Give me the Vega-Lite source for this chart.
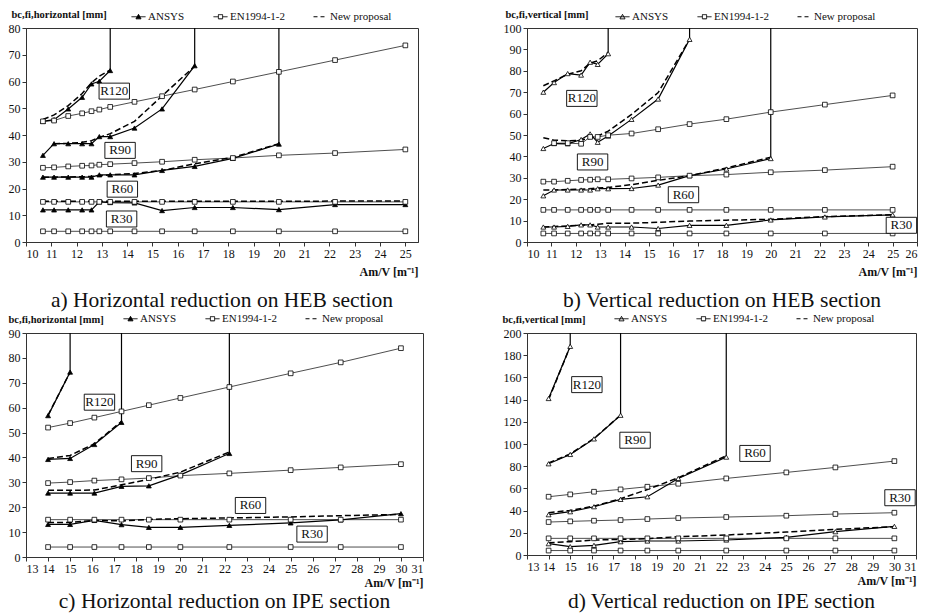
{
  "$schema": "https://vega.github.io/schema/vega-lite/v6.json",
  "background": "white",
  "padding": {"left": 7, "top": 8, "right": 0, "bottom": 0},
  "bounds": "flush",
  "columns": 2,
  "spacing": {"row": 91, "column": 104},
  "resolve": {"scale": {"strokeDash": "independent", "fill": "independent", "shape": "independent"}, "legend": {"strokeDash": "independent", "fill": "independent", "shape": "independent"}},
  "config": {
    "font": "Liberation Serif",
    "view": {"stroke": "#333", "strokeWidth": 1},
    "axis": {"grid": false, "labelOverlap": false, "labelFont": "Liberation Serif", "labelFontSize": 12, "labelColor": "#111", "domainColor": "#333", "tickColor": "#333", "tickSize": 4, "labelPadding": 2, "titleFont": "Liberation Serif", "titleColor": "#111", "titleFontWeight": "bold"},
    "axisX": {"titleAnchor": "end", "titleFontSize": 12},
    "axisY": {"titleAngle": 0, "titleAlign": "left", "titleBaseline": "alphabetic", "titleFontSize": 10.5},
    "title": {"font": "Liberation Serif", "fontSize": 21.5, "fontWeight": "normal", "orient": "bottom", "anchor": "middle", "color": "#111"},
    "legend": {"orient": "none", "direction": "horizontal", "symbolSize": 196, "symbolStrokeWidth": 1, "labelFont": "Liberation Serif", "labelFontSize": 11, "labelColor": "#111", "labelOffset": 2, "columnPadding": 26}
  },
  "datasets": {
    "labels": [
      {"p":"a","t":"R120","x":13.49,"y":56.4},{"p":"a","t":"R90","x":13.72,"y":34.25},{"p":"a","t":"R60","x":13.81,"y":19.75},{"p":"a","t":"R30","x":13.78,"y":8.6},
      {"p":"b","t":"R120","x":12.25,"y":67.1},{"p":"b","t":"R90","x":12.69,"y":37.4},{"p":"b","t":"R60","x":16.42,"y":22.1},{"p":"b","t":"R30","x":25.36,"y":7.8},
      {"p":"c","t":"R120","x":16.33,"y":62.2},{"p":"c","t":"R90","x":18.47,"y":37.5},{"p":"c","t":"R60","x":23.18,"y":20.7},{"p":"c","t":"R30","x":25.97,"y":9.2},
      {"p":"d","t":"R120","x":15.77,"y":153.5},{"p":"d","t":"R90","x":18.0,"y":103.4},{"p":"d","t":"R60","x":23.55,"y":91.5},{"p":"d","t":"R30","x":30.26,"y":51.6}
    ],
    "a": [
      {"m":"EN1994-1-2","r":"R120","x":10.67,"y":45.1},{"m":"EN1994-1-2","r":"R120","x":11.11,"y":45.4},{"m":"EN1994-1-2","r":"R120","x":11.67,"y":47.1},{"m":"EN1994-1-2","r":"R120","x":12.22,"y":48.1},{"m":"EN1994-1-2","r":"R120","x":12.59,"y":48.9},{"m":"EN1994-1-2","r":"R120","x":12.9,"y":49.5},{"m":"EN1994-1-2","r":"R120","x":13.33,"y":50.5},{"m":"EN1994-1-2","r":"R120","x":14.29,"y":52.4},{"m":"EN1994-1-2","r":"R120","x":15.38,"y":54.5},{"m":"EN1994-1-2","r":"R120","x":16.67,"y":57},{"m":"EN1994-1-2","r":"R120","x":18.18,"y":60},{"m":"EN1994-1-2","r":"R120","x":20,"y":63.6},{"m":"EN1994-1-2","r":"R120","x":22.22,"y":68},{"m":"EN1994-1-2","r":"R120","x":25,"y":73.5},
      {"m":"EN1994-1-2","r":"R90","x":10.67,"y":27.75},{"m":"EN1994-1-2","r":"R90","x":11.11,"y":27.9},{"m":"EN1994-1-2","r":"R90","x":11.67,"y":28.25},{"m":"EN1994-1-2","r":"R90","x":12.22,"y":28.5},{"m":"EN1994-1-2","r":"R90","x":12.59,"y":28.6},{"m":"EN1994-1-2","r":"R90","x":12.9,"y":28.9},{"m":"EN1994-1-2","r":"R90","x":13.33,"y":29.1},{"m":"EN1994-1-2","r":"R90","x":14.29,"y":29.5},{"m":"EN1994-1-2","r":"R90","x":15.38,"y":30},{"m":"EN1994-1-2","r":"R90","x":16.67,"y":30.75},{"m":"EN1994-1-2","r":"R90","x":18.18,"y":31.4},{"m":"EN1994-1-2","r":"R90","x":20,"y":32.4},{"m":"EN1994-1-2","r":"R90","x":22.22,"y":33.25},{"m":"EN1994-1-2","r":"R90","x":25,"y":34.6},
      {"m":"EN1994-1-2","r":"R60","x":10.67,"y":15},{"m":"EN1994-1-2","r":"R60","x":11.11,"y":15},{"m":"EN1994-1-2","r":"R60","x":11.67,"y":15},{"m":"EN1994-1-2","r":"R60","x":12.22,"y":15},{"m":"EN1994-1-2","r":"R60","x":12.59,"y":15},{"m":"EN1994-1-2","r":"R60","x":12.9,"y":15},{"m":"EN1994-1-2","r":"R60","x":13.33,"y":15},{"m":"EN1994-1-2","r":"R60","x":14.29,"y":15},{"m":"EN1994-1-2","r":"R60","x":15.38,"y":15},{"m":"EN1994-1-2","r":"R60","x":16.67,"y":15},{"m":"EN1994-1-2","r":"R60","x":18.18,"y":15},{"m":"EN1994-1-2","r":"R60","x":20,"y":15},{"m":"EN1994-1-2","r":"R60","x":22.22,"y":15},{"m":"EN1994-1-2","r":"R60","x":25,"y":15},
      {"m":"EN1994-1-2","r":"R30","x":10.67,"y":4},{"m":"EN1994-1-2","r":"R30","x":11.11,"y":4},{"m":"EN1994-1-2","r":"R30","x":11.67,"y":4},{"m":"EN1994-1-2","r":"R30","x":12.22,"y":4},{"m":"EN1994-1-2","r":"R30","x":12.59,"y":4},{"m":"EN1994-1-2","r":"R30","x":12.9,"y":4},{"m":"EN1994-1-2","r":"R30","x":13.33,"y":4},{"m":"EN1994-1-2","r":"R30","x":14.29,"y":4},{"m":"EN1994-1-2","r":"R30","x":15.38,"y":4},{"m":"EN1994-1-2","r":"R30","x":16.67,"y":4},{"m":"EN1994-1-2","r":"R30","x":18.18,"y":4},{"m":"EN1994-1-2","r":"R30","x":20,"y":4},{"m":"EN1994-1-2","r":"R30","x":22.22,"y":4},{"m":"EN1994-1-2","r":"R30","x":25,"y":4},
      {"m":"ANSYS","r":"R120","x":10.67,"y":45.1},{"m":"ANSYS","r":"R120","x":11.11,"y":45.75},{"m":"ANSYS","r":"R120","x":11.67,"y":49.75},{"m":"ANSYS","r":"R120","x":12.22,"y":54.1},{"m":"ANSYS","r":"R120","x":12.59,"y":59.1},{"m":"ANSYS","r":"R120","x":12.9,"y":60.1},{"m":"ANSYS","r":"R120","x":13.33,"y":64.1},{"m":"ANSYS","r":"R120","x":13.33,"y":80,"cap":true},
      {"m":"ANSYS","r":"R90","x":10.67,"y":32.4},{"m":"ANSYS","r":"R90","x":11.11,"y":36.75},{"m":"ANSYS","r":"R90","x":11.67,"y":36.75},{"m":"ANSYS","r":"R90","x":12.22,"y":36.75},{"m":"ANSYS","r":"R90","x":12.59,"y":36.75},{"m":"ANSYS","r":"R90","x":12.9,"y":39.4},{"m":"ANSYS","r":"R90","x":13.33,"y":39.4},{"m":"ANSYS","r":"R90","x":14.29,"y":42.6},{"m":"ANSYS","r":"R90","x":15.38,"y":49.75},{"m":"ANSYS","r":"R90","x":16.67,"y":65.9},{"m":"ANSYS","r":"R90","x":16.67,"y":80,"cap":true},
      {"m":"ANSYS","r":"R60","x":10.67,"y":24.25},{"m":"ANSYS","r":"R60","x":11.11,"y":24.25},{"m":"ANSYS","r":"R60","x":11.67,"y":24.25},{"m":"ANSYS","r":"R60","x":12.22,"y":24.25},{"m":"ANSYS","r":"R60","x":12.59,"y":24.25},{"m":"ANSYS","r":"R60","x":12.9,"y":25.1},{"m":"ANSYS","r":"R60","x":13.33,"y":25.1},{"m":"ANSYS","r":"R60","x":14.29,"y":25.1},{"m":"ANSYS","r":"R60","x":15.38,"y":26.75},{"m":"ANSYS","r":"R60","x":16.67,"y":28.25},{"m":"ANSYS","r":"R60","x":18.18,"y":31.25},{"m":"ANSYS","r":"R60","x":20,"y":36.6},{"m":"ANSYS","r":"R60","x":20,"y":80,"cap":true},
      {"m":"ANSYS","r":"R30","x":10.67,"y":12},{"m":"ANSYS","r":"R30","x":11.11,"y":12},{"m":"ANSYS","r":"R30","x":11.67,"y":12},{"m":"ANSYS","r":"R30","x":12.22,"y":12},{"m":"ANSYS","r":"R30","x":12.59,"y":12},{"m":"ANSYS","r":"R30","x":12.9,"y":15},{"m":"ANSYS","r":"R30","x":13.33,"y":14.75},{"m":"ANSYS","r":"R30","x":14.29,"y":14.6},{"m":"ANSYS","r":"R30","x":15.38,"y":11.75},{"m":"ANSYS","r":"R30","x":16.67,"y":12.9},{"m":"ANSYS","r":"R30","x":18.18,"y":12.9},{"m":"ANSYS","r":"R30","x":20,"y":12.1},{"m":"ANSYS","r":"R30","x":22.22,"y":14},{"m":"ANSYS","r":"R30","x":25,"y":14},
      {"m":"New proposal","r":"R120","x":10.67,"y":45.8},{"m":"New proposal","r":"R120","x":11.11,"y":47.5},{"m":"New proposal","r":"R120","x":11.67,"y":51},{"m":"New proposal","r":"R120","x":12.22,"y":55.5},{"m":"New proposal","r":"R120","x":12.59,"y":59.5},{"m":"New proposal","r":"R120","x":12.9,"y":62},{"m":"New proposal","r":"R120","x":13.33,"y":64.3},
      {"m":"New proposal","r":"R90","x":11.11,"y":36.75},{"m":"New proposal","r":"R90","x":11.67,"y":36.9},{"m":"New proposal","r":"R90","x":12.22,"y":37.25},{"m":"New proposal","r":"R90","x":12.59,"y":37.9},{"m":"New proposal","r":"R90","x":12.9,"y":39.1},{"m":"New proposal","r":"R90","x":13.33,"y":40.5},{"m":"New proposal","r":"R90","x":14.29,"y":45.1},{"m":"New proposal","r":"R90","x":15.38,"y":54.6},{"m":"New proposal","r":"R90","x":16.67,"y":65.75},
      {"m":"New proposal","r":"R60","x":10.67,"y":24.25},{"m":"New proposal","r":"R60","x":11.11,"y":24.25},{"m":"New proposal","r":"R60","x":11.67,"y":24.3},{"m":"New proposal","r":"R60","x":12.22,"y":24.4},{"m":"New proposal","r":"R60","x":12.59,"y":24.5},{"m":"New proposal","r":"R60","x":12.9,"y":24.8},{"m":"New proposal","r":"R60","x":13.33,"y":25.1},{"m":"New proposal","r":"R60","x":14.29,"y":25.6},{"m":"New proposal","r":"R60","x":15.38,"y":26.75},{"m":"New proposal","r":"R60","x":16.67,"y":29.25},{"m":"New proposal","r":"R60","x":18.18,"y":31.6},{"m":"New proposal","r":"R60","x":20,"y":36.75},
      {"m":"New proposal","r":"R30","x":10.67,"y":15.2},{"m":"New proposal","r":"R30","x":11.11,"y":15.2},{"m":"New proposal","r":"R30","x":11.67,"y":15.2},{"m":"New proposal","r":"R30","x":12.22,"y":15.2},{"m":"New proposal","r":"R30","x":12.59,"y":15.2},{"m":"New proposal","r":"R30","x":12.9,"y":15.2},{"m":"New proposal","r":"R30","x":13.33,"y":15.2},{"m":"New proposal","r":"R30","x":14.29,"y":15.2},{"m":"New proposal","r":"R30","x":15.38,"y":15.2},{"m":"New proposal","r":"R30","x":16.67,"y":15.2},{"m":"New proposal","r":"R30","x":18.18,"y":15.2},{"m":"New proposal","r":"R30","x":20,"y":15.2},{"m":"New proposal","r":"R30","x":22.22,"y":15.3},{"m":"New proposal","r":"R30","x":25,"y":15.3}
    ],
    "b": [
      {"m":"EN1994-1-2","r":"R120","x":11.11,"y":46.2},{"m":"EN1994-1-2","r":"R120","x":11.67,"y":46.2},{"m":"EN1994-1-2","r":"R120","x":12.22,"y":45.9},{"m":"EN1994-1-2","r":"R120","x":12.59,"y":49.1},{"m":"EN1994-1-2","r":"R120","x":12.9,"y":49.1},{"m":"EN1994-1-2","r":"R120","x":13.33,"y":49.9},{"m":"EN1994-1-2","r":"R120","x":14.29,"y":50.7},{"m":"EN1994-1-2","r":"R120","x":15.38,"y":52.7},{"m":"EN1994-1-2","r":"R120","x":16.67,"y":55.1},{"m":"EN1994-1-2","r":"R120","x":18.18,"y":57.4},{"m":"EN1994-1-2","r":"R120","x":20,"y":60.7},{"m":"EN1994-1-2","r":"R120","x":22.22,"y":64.2},{"m":"EN1994-1-2","r":"R120","x":25,"y":68.5},
      {"m":"EN1994-1-2","r":"R90","x":10.67,"y":28.2},{"m":"EN1994-1-2","r":"R90","x":11.11,"y":28.2},{"m":"EN1994-1-2","r":"R90","x":11.67,"y":28.6},{"m":"EN1994-1-2","r":"R90","x":12.22,"y":29},{"m":"EN1994-1-2","r":"R90","x":12.59,"y":29.1},{"m":"EN1994-1-2","r":"R90","x":12.9,"y":29.3},{"m":"EN1994-1-2","r":"R90","x":13.33,"y":29.3},{"m":"EN1994-1-2","r":"R90","x":14.29,"y":29.7},{"m":"EN1994-1-2","r":"R90","x":15.38,"y":30.2},{"m":"EN1994-1-2","r":"R90","x":16.67,"y":31},{"m":"EN1994-1-2","r":"R90","x":18.18,"y":31.5},{"m":"EN1994-1-2","r":"R90","x":20,"y":32.6},{"m":"EN1994-1-2","r":"R90","x":22.22,"y":33.6},{"m":"EN1994-1-2","r":"R90","x":25,"y":35.2},
      {"m":"EN1994-1-2","r":"R60","x":10.67,"y":15},{"m":"EN1994-1-2","r":"R60","x":11.11,"y":15},{"m":"EN1994-1-2","r":"R60","x":11.67,"y":15},{"m":"EN1994-1-2","r":"R60","x":12.22,"y":15},{"m":"EN1994-1-2","r":"R60","x":12.59,"y":15},{"m":"EN1994-1-2","r":"R60","x":12.9,"y":15},{"m":"EN1994-1-2","r":"R60","x":13.33,"y":15},{"m":"EN1994-1-2","r":"R60","x":14.29,"y":15},{"m":"EN1994-1-2","r":"R60","x":15.38,"y":15},{"m":"EN1994-1-2","r":"R60","x":16.67,"y":15},{"m":"EN1994-1-2","r":"R60","x":18.18,"y":15},{"m":"EN1994-1-2","r":"R60","x":20,"y":15},{"m":"EN1994-1-2","r":"R60","x":22.22,"y":15},{"m":"EN1994-1-2","r":"R60","x":25,"y":15},
      {"m":"EN1994-1-2","r":"R30","x":10.67,"y":4},{"m":"EN1994-1-2","r":"R30","x":11.11,"y":4},{"m":"EN1994-1-2","r":"R30","x":11.67,"y":4},{"m":"EN1994-1-2","r":"R30","x":12.22,"y":4},{"m":"EN1994-1-2","r":"R30","x":12.59,"y":4},{"m":"EN1994-1-2","r":"R30","x":12.9,"y":4},{"m":"EN1994-1-2","r":"R30","x":13.33,"y":4},{"m":"EN1994-1-2","r":"R30","x":14.29,"y":4},{"m":"EN1994-1-2","r":"R30","x":15.38,"y":4},{"m":"EN1994-1-2","r":"R30","x":16.67,"y":4},{"m":"EN1994-1-2","r":"R30","x":18.18,"y":4},{"m":"EN1994-1-2","r":"R30","x":20,"y":4},{"m":"EN1994-1-2","r":"R30","x":22.22,"y":4},{"m":"EN1994-1-2","r":"R30","x":25,"y":4},
      {"m":"ANSYS","r":"R120","x":10.67,"y":70},{"m":"ANSYS","r":"R120","x":11.11,"y":74.5},{"m":"ANSYS","r":"R120","x":11.67,"y":78.7},{"m":"ANSYS","r":"R120","x":12.22,"y":78},{"m":"ANSYS","r":"R120","x":12.59,"y":84},{"m":"ANSYS","r":"R120","x":12.9,"y":83},{"m":"ANSYS","r":"R120","x":13.33,"y":88},{"m":"ANSYS","r":"R120","x":13.33,"y":100,"cap":true},
      {"m":"ANSYS","r":"R90","x":10.67,"y":43.7},{"m":"ANSYS","r":"R90","x":11.11,"y":46},{"m":"ANSYS","r":"R90","x":11.67,"y":45.9},{"m":"ANSYS","r":"R90","x":12.22,"y":47.9},{"m":"ANSYS","r":"R90","x":12.59,"y":50.5},{"m":"ANSYS","r":"R90","x":12.9,"y":46.6},{"m":"ANSYS","r":"R90","x":13.33,"y":49.5},{"m":"ANSYS","r":"R90","x":14.29,"y":57.3},{"m":"ANSYS","r":"R90","x":15.38,"y":66.8},{"m":"ANSYS","r":"R90","x":16.67,"y":94.7},{"m":"ANSYS","r":"R90","x":16.67,"y":100,"cap":true},
      {"m":"ANSYS","r":"R60","x":10.67,"y":21.6},{"m":"ANSYS","r":"R60","x":11.11,"y":24.3},{"m":"ANSYS","r":"R60","x":11.67,"y":24.3},{"m":"ANSYS","r":"R60","x":12.22,"y":24.3},{"m":"ANSYS","r":"R60","x":12.59,"y":24.3},{"m":"ANSYS","r":"R60","x":12.9,"y":24.9},{"m":"ANSYS","r":"R60","x":13.33,"y":24.9},{"m":"ANSYS","r":"R60","x":14.29,"y":25},{"m":"ANSYS","r":"R60","x":15.38,"y":26.6},{"m":"ANSYS","r":"R60","x":16.67,"y":31},{"m":"ANSYS","r":"R60","x":18.18,"y":34.1},{"m":"ANSYS","r":"R60","x":20,"y":39},{"m":"ANSYS","r":"R60","x":20,"y":100,"cap":true},
      {"m":"ANSYS","r":"R30","x":10.67,"y":7},{"m":"ANSYS","r":"R30","x":11.11,"y":7},{"m":"ANSYS","r":"R30","x":11.67,"y":7.3},{"m":"ANSYS","r":"R30","x":12.22,"y":8},{"m":"ANSYS","r":"R30","x":12.59,"y":8},{"m":"ANSYS","r":"R30","x":12.9,"y":7},{"m":"ANSYS","r":"R30","x":13.33,"y":7},{"m":"ANSYS","r":"R30","x":14.29,"y":7},{"m":"ANSYS","r":"R30","x":15.38,"y":6.3},{"m":"ANSYS","r":"R30","x":16.67,"y":7.8},{"m":"ANSYS","r":"R30","x":18.18,"y":7.8},{"m":"ANSYS","r":"R30","x":20,"y":10.3},{"m":"ANSYS","r":"R30","x":22.22,"y":11.7},{"m":"ANSYS","r":"R30","x":25,"y":12.7},
      {"m":"New proposal","r":"R120","x":10.67,"y":73},{"m":"New proposal","r":"R120","x":11.11,"y":75.3},{"m":"New proposal","r":"R120","x":11.67,"y":78.4},{"m":"New proposal","r":"R120","x":12.22,"y":80},{"m":"New proposal","r":"R120","x":12.59,"y":83.6},{"m":"New proposal","r":"R120","x":12.9,"y":84.7},{"m":"New proposal","r":"R120","x":13.33,"y":88.6},
      {"m":"New proposal","r":"R90","x":10.67,"y":48.7},{"m":"New proposal","r":"R90","x":11.11,"y":47.6},{"m":"New proposal","r":"R90","x":11.67,"y":47.3},{"m":"New proposal","r":"R90","x":12.22,"y":47.6},{"m":"New proposal","r":"R90","x":12.59,"y":48.5},{"m":"New proposal","r":"R90","x":12.9,"y":49.5},{"m":"New proposal","r":"R90","x":13.33,"y":51.8},{"m":"New proposal","r":"R90","x":14.29,"y":59.6},{"m":"New proposal","r":"R90","x":15.38,"y":69.8},{"m":"New proposal","r":"R90","x":16.67,"y":94.7},
      {"m":"New proposal","r":"R60","x":10.67,"y":24.3},{"m":"New proposal","r":"R60","x":11.11,"y":24.3},{"m":"New proposal","r":"R60","x":11.67,"y":24.5},{"m":"New proposal","r":"R60","x":12.22,"y":24.7},{"m":"New proposal","r":"R60","x":12.59,"y":24.9},{"m":"New proposal","r":"R60","x":12.9,"y":25.2},{"m":"New proposal","r":"R60","x":13.33,"y":25.5},{"m":"New proposal","r":"R60","x":14.29,"y":26.8},{"m":"New proposal","r":"R60","x":15.38,"y":28.8},{"m":"New proposal","r":"R60","x":16.67,"y":31},{"m":"New proposal","r":"R60","x":18.18,"y":34.6},{"m":"New proposal","r":"R60","x":20,"y":39.6},
      {"m":"New proposal","r":"R30","x":10.67,"y":7},{"m":"New proposal","r":"R30","x":11.11,"y":7.3},{"m":"New proposal","r":"R30","x":11.67,"y":7.5},{"m":"New proposal","r":"R30","x":12.22,"y":7.8},{"m":"New proposal","r":"R30","x":12.59,"y":8},{"m":"New proposal","r":"R30","x":12.9,"y":8.3},{"m":"New proposal","r":"R30","x":13.33,"y":8.8},{"m":"New proposal","r":"R30","x":14.29,"y":8.8},{"m":"New proposal","r":"R30","x":15.38,"y":9.2},{"m":"New proposal","r":"R30","x":16.67,"y":9.8},{"m":"New proposal","r":"R30","x":18.18,"y":10.2},{"m":"New proposal","r":"R30","x":20,"y":10.6},{"m":"New proposal","r":"R30","x":22.22,"y":11.9},{"m":"New proposal","r":"R30","x":25,"y":12.7}
    ],
    "c": [
      {"m":"EN1994-1-2","r":"R120","x":14,"y":52},{"m":"EN1994-1-2","r":"R120","x":15,"y":53.8},{"m":"EN1994-1-2","r":"R120","x":16.1,"y":56},{"m":"EN1994-1-2","r":"R120","x":17.33,"y":58.5},{"m":"EN1994-1-2","r":"R120","x":18.57,"y":61},{"m":"EN1994-1-2","r":"R120","x":20,"y":63.9},{"m":"EN1994-1-2","r":"R120","x":22.22,"y":68.3},{"m":"EN1994-1-2","r":"R120","x":25,"y":73.8},{"m":"EN1994-1-2","r":"R120","x":27.27,"y":78.2},{"m":"EN1994-1-2","r":"R120","x":30,"y":83.9},
      {"m":"EN1994-1-2","r":"R90","x":14,"y":29.7},{"m":"EN1994-1-2","r":"R90","x":15,"y":30.1},{"m":"EN1994-1-2","r":"R90","x":16.1,"y":30.7},{"m":"EN1994-1-2","r":"R90","x":17.33,"y":31.2},{"m":"EN1994-1-2","r":"R90","x":18.57,"y":31.7},{"m":"EN1994-1-2","r":"R90","x":20,"y":32.7},{"m":"EN1994-1-2","r":"R90","x":22.22,"y":33.6},{"m":"EN1994-1-2","r":"R90","x":25,"y":34.9},{"m":"EN1994-1-2","r":"R90","x":27.27,"y":36},{"m":"EN1994-1-2","r":"R90","x":30,"y":37.3},
      {"m":"EN1994-1-2","r":"R60","x":14,"y":15},{"m":"EN1994-1-2","r":"R60","x":15,"y":15},{"m":"EN1994-1-2","r":"R60","x":16.1,"y":15},{"m":"EN1994-1-2","r":"R60","x":17.33,"y":15},{"m":"EN1994-1-2","r":"R60","x":18.57,"y":15},{"m":"EN1994-1-2","r":"R60","x":20,"y":15},{"m":"EN1994-1-2","r":"R60","x":22.22,"y":15},{"m":"EN1994-1-2","r":"R60","x":25,"y":15},{"m":"EN1994-1-2","r":"R60","x":27.27,"y":15},{"m":"EN1994-1-2","r":"R60","x":30,"y":15},
      {"m":"EN1994-1-2","r":"R30","x":14,"y":4},{"m":"EN1994-1-2","r":"R30","x":15,"y":4},{"m":"EN1994-1-2","r":"R30","x":16.1,"y":4},{"m":"EN1994-1-2","r":"R30","x":17.33,"y":4},{"m":"EN1994-1-2","r":"R30","x":18.57,"y":4},{"m":"EN1994-1-2","r":"R30","x":20,"y":4},{"m":"EN1994-1-2","r":"R30","x":22.22,"y":4},{"m":"EN1994-1-2","r":"R30","x":25,"y":4},{"m":"EN1994-1-2","r":"R30","x":27.27,"y":4},{"m":"EN1994-1-2","r":"R30","x":30,"y":4},
      {"m":"ANSYS","r":"R120","x":14,"y":56.8},{"m":"ANSYS","r":"R120","x":15,"y":74.3},{"m":"ANSYS","r":"R120","x":15,"y":90,"cap":true},
      {"m":"ANSYS","r":"R90","x":14,"y":39.2},{"m":"ANSYS","r":"R90","x":15,"y":39.6},{"m":"ANSYS","r":"R90","x":16.1,"y":45.2},{"m":"ANSYS","r":"R90","x":17.33,"y":54.1},{"m":"ANSYS","r":"R90","x":17.33,"y":90,"cap":true},
      {"m":"ANSYS","r":"R60","x":14,"y":25.7},{"m":"ANSYS","r":"R60","x":15,"y":25.7},{"m":"ANSYS","r":"R60","x":16.1,"y":25.7},{"m":"ANSYS","r":"R60","x":17.33,"y":28.4},{"m":"ANSYS","r":"R60","x":18.57,"y":28.6},{"m":"ANSYS","r":"R60","x":20,"y":33},{"m":"ANSYS","r":"R60","x":22.22,"y":41.6},{"m":"ANSYS","r":"R60","x":22.22,"y":90,"cap":true},
      {"m":"ANSYS","r":"R30","x":14,"y":13.1},{"m":"ANSYS","r":"R30","x":15,"y":13.1},{"m":"ANSYS","r":"R30","x":16.1,"y":14.7},{"m":"ANSYS","r":"R30","x":17.33,"y":13},{"m":"ANSYS","r":"R30","x":18.57,"y":11.9},{"m":"ANSYS","r":"R30","x":20,"y":11.9},{"m":"ANSYS","r":"R30","x":22.22,"y":12.7},{"m":"ANSYS","r":"R30","x":25,"y":13.7},{"m":"ANSYS","r":"R30","x":27.27,"y":14.9},{"m":"ANSYS","r":"R30","x":30,"y":17.4},
      {"m":"New proposal","r":"R120","x":14,"y":57},{"m":"New proposal","r":"R120","x":15,"y":74.3},
      {"m":"New proposal","r":"R90","x":14,"y":39.6},{"m":"New proposal","r":"R90","x":15,"y":40.8},{"m":"New proposal","r":"R90","x":16.1,"y":45.5},{"m":"New proposal","r":"R90","x":17.33,"y":54.5},
      {"m":"New proposal","r":"R60","x":14,"y":26.8},{"m":"New proposal","r":"R60","x":15,"y":26.8},{"m":"New proposal","r":"R60","x":16.1,"y":26.9},{"m":"New proposal","r":"R60","x":17.33,"y":29},{"m":"New proposal","r":"R60","x":18.57,"y":31.2},{"m":"New proposal","r":"R60","x":20,"y":34.1},{"m":"New proposal","r":"R60","x":22.22,"y":42.2},
      {"m":"New proposal","r":"R30","x":14,"y":13.9},{"m":"New proposal","r":"R30","x":15,"y":13.9},{"m":"New proposal","r":"R30","x":16.1,"y":14.7},{"m":"New proposal","r":"R30","x":17.33,"y":14.5},{"m":"New proposal","r":"R30","x":18.57,"y":15.1},{"m":"New proposal","r":"R30","x":20,"y":15.4},{"m":"New proposal","r":"R30","x":22.22,"y":15.7},{"m":"New proposal","r":"R30","x":25,"y":16.1},{"m":"New proposal","r":"R30","x":27.27,"y":16.6},{"m":"New proposal","r":"R30","x":30,"y":17.1}
    ],
    "d": [
      {"m":"EN1994-1-2","r":"R120","x":14,"y":52.5},{"m":"EN1994-1-2","r":"R120","x":15,"y":54.6},{"m":"EN1994-1-2","r":"R120","x":16.1,"y":57},{"m":"EN1994-1-2","r":"R120","x":17.33,"y":59.1},{"m":"EN1994-1-2","r":"R120","x":18.57,"y":61.5},{"m":"EN1994-1-2","r":"R120","x":20,"y":64.2},{"m":"EN1994-1-2","r":"R120","x":22.22,"y":69},{"m":"EN1994-1-2","r":"R120","x":25,"y":74.4},{"m":"EN1994-1-2","r":"R120","x":27.27,"y":78.9},{"m":"EN1994-1-2","r":"R120","x":30,"y":84.6},
      {"m":"EN1994-1-2","r":"R90","x":14,"y":29.7},{"m":"EN1994-1-2","r":"R90","x":15,"y":30.3},{"m":"EN1994-1-2","r":"R90","x":16.1,"y":30.9},{"m":"EN1994-1-2","r":"R90","x":17.33,"y":31.5},{"m":"EN1994-1-2","r":"R90","x":18.57,"y":32.4},{"m":"EN1994-1-2","r":"R90","x":20,"y":33.3},{"m":"EN1994-1-2","r":"R90","x":22.22,"y":34.2},{"m":"EN1994-1-2","r":"R90","x":25,"y":35.4},{"m":"EN1994-1-2","r":"R90","x":27.27,"y":36.9},{"m":"EN1994-1-2","r":"R90","x":30,"y":38.1},
      {"m":"EN1994-1-2","r":"R60","x":14,"y":15},{"m":"EN1994-1-2","r":"R60","x":15,"y":15},{"m":"EN1994-1-2","r":"R60","x":16.1,"y":15},{"m":"EN1994-1-2","r":"R60","x":17.33,"y":15},{"m":"EN1994-1-2","r":"R60","x":18.57,"y":15},{"m":"EN1994-1-2","r":"R60","x":20,"y":15},{"m":"EN1994-1-2","r":"R60","x":22.22,"y":15},{"m":"EN1994-1-2","r":"R60","x":25,"y":15},{"m":"EN1994-1-2","r":"R60","x":27.27,"y":15},{"m":"EN1994-1-2","r":"R60","x":30,"y":15},
      {"m":"EN1994-1-2","r":"R30","x":14,"y":4},{"m":"EN1994-1-2","r":"R30","x":15,"y":4},{"m":"EN1994-1-2","r":"R30","x":16.1,"y":4},{"m":"EN1994-1-2","r":"R30","x":17.33,"y":4},{"m":"EN1994-1-2","r":"R30","x":18.57,"y":4},{"m":"EN1994-1-2","r":"R30","x":20,"y":4},{"m":"EN1994-1-2","r":"R30","x":22.22,"y":4},{"m":"EN1994-1-2","r":"R30","x":25,"y":4},{"m":"EN1994-1-2","r":"R30","x":27.27,"y":4},{"m":"EN1994-1-2","r":"R30","x":30,"y":4},
      {"m":"ANSYS","r":"R120","x":14,"y":141},{"m":"ANSYS","r":"R120","x":15,"y":188},{"m":"ANSYS","r":"R120","x":15,"y":200,"cap":true},
      {"m":"ANSYS","r":"R90","x":14,"y":82.2},{"m":"ANSYS","r":"R90","x":15,"y":90.6},{"m":"ANSYS","r":"R90","x":16.1,"y":104.6},{"m":"ANSYS","r":"R90","x":17.33,"y":125.9},{"m":"ANSYS","r":"R90","x":17.33,"y":200,"cap":true},
      {"m":"ANSYS","r":"R60","x":14,"y":36.3},{"m":"ANSYS","r":"R60","x":15,"y":39},{"m":"ANSYS","r":"R60","x":16.1,"y":43.5},{"m":"ANSYS","r":"R60","x":17.33,"y":50.1},{"m":"ANSYS","r":"R60","x":18.57,"y":52.5},{"m":"ANSYS","r":"R60","x":20,"y":69},{"m":"ANSYS","r":"R60","x":22.22,"y":88.2},{"m":"ANSYS","r":"R60","x":22.22,"y":200,"cap":true},
      {"m":"ANSYS","r":"R30","x":14,"y":10.2},{"m":"ANSYS","r":"R30","x":15,"y":7.5},{"m":"ANSYS","r":"R30","x":16.1,"y":8.7},{"m":"ANSYS","r":"R30","x":17.33,"y":12},{"m":"ANSYS","r":"R30","x":18.57,"y":12.6},{"m":"ANSYS","r":"R30","x":20,"y":12.6},{"m":"ANSYS","r":"R30","x":22.22,"y":13.5},{"m":"ANSYS","r":"R30","x":25,"y":15.9},{"m":"ANSYS","r":"R30","x":27.27,"y":21},{"m":"ANSYS","r":"R30","x":30,"y":25.8},
      {"m":"New proposal","r":"R120","x":14,"y":140},{"m":"New proposal","r":"R120","x":15,"y":188},
      {"m":"New proposal","r":"R90","x":14,"y":83},{"m":"New proposal","r":"R90","x":15,"y":91},{"m":"New proposal","r":"R90","x":16.1,"y":105},{"m":"New proposal","r":"R90","x":17.33,"y":126},
      {"m":"New proposal","r":"R60","x":14,"y":38.1},{"m":"New proposal","r":"R60","x":15,"y":40.2},{"m":"New proposal","r":"R60","x":16.1,"y":44},{"m":"New proposal","r":"R60","x":17.33,"y":50.7},{"m":"New proposal","r":"R60","x":18.57,"y":59},{"m":"New proposal","r":"R60","x":20,"y":69.6},{"m":"New proposal","r":"R60","x":22.22,"y":89.4},
      {"m":"New proposal","r":"R30","x":14,"y":11.1},{"m":"New proposal","r":"R30","x":15,"y":12},{"m":"New proposal","r":"R30","x":16.1,"y":13.5},{"m":"New proposal","r":"R30","x":17.33,"y":14.1},{"m":"New proposal","r":"R30","x":18.57,"y":14.7},{"m":"New proposal","r":"R30","x":20,"y":16.5},{"m":"New proposal","r":"R30","x":22.22,"y":18},{"m":"New proposal","r":"R30","x":25,"y":20.7},{"m":"New proposal","r":"R30","x":27.27,"y":23.1},{"m":"New proposal","r":"R30","x":30,"y":25.5}
    ]
  },
  "concat": [
    {
      "width": 392, "height": 214,
      "title": {"text": "a) Horizontal reduction on HEB section", "offset": 13},
      "data": {"name": "a"},
      "encoding": {
        "x": {"field": "x", "type": "quantitative", "scale": {"domain": [10, 25.5], "nice": false, "zero": false}, "axis": {"values": [10,11,12,13,14,15,16,17,18,19,20,21,22,23,24,25], "title": "Am/V [m⁻¹]", "titlePadding": 7}},
        "y": {"field": "y", "type": "quantitative", "scale": {"domain": [0, 80], "nice": false}, "axis": {"values": [0,10,20,30,40,50,60,70,80], "title": "bc,fi,horizontal [mm]", "titleX": -15, "titleY": -11}}
      },
      "layer": [
        {"transform": [{"filter": "datum.m == 'EN1994-1-2'"}], "mark": {"type": "line", "color": "#3a3a3a", "strokeWidth": 0.9},
         "encoding": {"detail": {"field": "r"}, "order": [{"field": "x", "type": "quantitative"}, {"field": "y", "type": "quantitative"}]}},
        {"transform": [{"filter": "datum.m == 'New proposal'"}], "mark": {"type": "line", "color": "#000000", "strokeWidth": 1.5, "strokeDash": [6,3]},
         "encoding": {"detail": {"field": "r"}, "order": [{"field": "x", "type": "quantitative"}, {"field": "y", "type": "quantitative"}]}},
        {"transform": [{"filter": "datum.m == 'ANSYS'"}], "mark": {"type": "line", "color": "#000000", "strokeWidth": 1.2},
         "encoding": {"detail": {"field": "r"}, "order": [{"field": "x", "type": "quantitative"}, {"field": "y", "type": "quantitative"}]}},
        {"transform": [{"filter": "datum.m == 'ANSYS' && !datum.cap"}],
         "mark": {"type": "point", "shape": "triangle-up", "filled": true, "fill": "black", "stroke": "black", "strokeWidth": 0.8, "opacity": 1, "size": 24}},
        {"transform": [{"filter": "datum.m == 'EN1994-1-2'"}],
         "mark": {"type": "point", "shape": "square", "filled": true, "fill": "white", "stroke": "black", "strokeWidth": 0.8, "opacity": 1, "size": 22}},
        {"transform": [{"filter": "false"}],
         "mark": {"type": "point", "filled": true, "stroke": "black", "strokeWidth": 1, "opacity": 1, "size": 196},
         "encoding": {
           "shape": {"field": "m", "type": "nominal", "scale": {"domain": ["ANSYS", "EN1994-1-2", "New proposal"], "range": ["M-1,0H1M-0.36,0.3L0,-0.34L0.36,0.3Z", "M-1,0H-0.3M0.3,0H1M-0.3,-0.3H0.3V0.3H-0.3Z", "M-1,0H1"]}, "legend": {"title": null, "orient": "none", "legendX": 105, "legendY": -19}},
           "fill": {"field": "m", "type": "nominal", "scale": {"domain": ["ANSYS", "EN1994-1-2", "New proposal"], "range": ["black", "white", "white"]}, "legend": {"title": null, "orient": "none", "legendX": 105, "legendY": -19}},
           "strokeDash": {"field": "m", "type": "nominal", "scale": {"domain": ["ANSYS", "EN1994-1-2", "New proposal"], "range": [[1,0],[1,0],[4,3]]}, "legend": {"title": null, "orient": "none", "legendX": 105, "legendY": -19}}}},
        {"data": {"name": "labels"}, "transform": [{"filter": "datum.p == 'a'"}],
         "mark": {"type": "point", "shape": "M-1.9,-1H1.9V1H-1.9Z", "size": 256, "filled": true, "fill": "white", "stroke": "black", "strokeWidth": 0.9, "opacity": 1}},
        {"data": {"name": "labels"}, "transform": [{"filter": "datum.p == 'a'"}],
         "mark": {"type": "text", "font": "Liberation Serif", "fontSize": 13, "color": "#111"},
         "encoding": {"text": {"field": "t"}}}
      ]
    },
    {
      "width": 390, "height": 214,
      "title": {"text": "b) Vertical reduction on HEB section", "offset": 13},
      "data": {"name": "b"},
      "encoding": {
        "x": {"field": "x", "type": "quantitative", "scale": {"domain": [10, 26], "nice": false, "zero": false}, "axis": {"values": [10,11,12,13,14,15,16,17,18,19,20,21,22,23,24,25,26], "title": "Am/V [m⁻¹]", "titlePadding": 7}},
        "y": {"field": "y", "type": "quantitative", "scale": {"domain": [0, 100], "nice": false}, "axis": {"values": [0,10,20,30,40,50,60,70,80,90,100], "title": "bc,fi,vertical [mm]", "titleX": -22, "titleY": -11}}
      },
      "layer": [
        {"transform": [{"filter": "datum.m == 'EN1994-1-2'"}], "mark": {"type": "line", "color": "#3a3a3a", "strokeWidth": 0.9},
         "encoding": {"detail": {"field": "r"}, "order": [{"field": "x", "type": "quantitative"}, {"field": "y", "type": "quantitative"}]}},
        {"transform": [{"filter": "datum.m == 'New proposal'"}], "mark": {"type": "line", "color": "#000000", "strokeWidth": 1.5, "strokeDash": [6,3]},
         "encoding": {"detail": {"field": "r"}, "order": [{"field": "x", "type": "quantitative"}, {"field": "y", "type": "quantitative"}]}},
        {"transform": [{"filter": "datum.m == 'ANSYS'"}], "mark": {"type": "line", "color": "#000000", "strokeWidth": 1.2},
         "encoding": {"detail": {"field": "r"}, "order": [{"field": "x", "type": "quantitative"}, {"field": "y", "type": "quantitative"}]}},
        {"transform": [{"filter": "datum.m == 'ANSYS' && !datum.cap"}],
         "mark": {"type": "point", "shape": "triangle-up", "filled": true, "fill": "white", "stroke": "black", "strokeWidth": 0.8, "opacity": 1, "size": 24}},
        {"transform": [{"filter": "datum.m == 'EN1994-1-2'"}],
         "mark": {"type": "point", "shape": "square", "filled": true, "fill": "white", "stroke": "black", "strokeWidth": 0.8, "opacity": 1, "size": 22}},
        {"transform": [{"filter": "false"}],
         "mark": {"type": "point", "filled": true, "stroke": "black", "strokeWidth": 1, "opacity": 1, "size": 196},
         "encoding": {
           "shape": {"field": "m", "type": "nominal", "scale": {"domain": ["ANSYS", "EN1994-1-2", "New proposal"], "range": ["M-1,0H1M-0.36,0.3L0,-0.34L0.36,0.3Z", "M-1,0H-0.3M0.3,0H1M-0.3,-0.3H0.3V0.3H-0.3Z", "M-1,0H1"]}, "legend": {"title": null, "orient": "none", "legendX": 88, "legendY": -19}},
           "fill": {"field": "m", "type": "nominal", "scale": {"domain": ["ANSYS", "EN1994-1-2", "New proposal"], "range": ["white", "white", "white"]}, "legend": {"title": null, "orient": "none", "legendX": 88, "legendY": -19}},
           "strokeDash": {"field": "m", "type": "nominal", "scale": {"domain": ["ANSYS", "EN1994-1-2", "New proposal"], "range": [[1,0],[1,0],[4,3]]}, "legend": {"title": null, "orient": "none", "legendX": 88, "legendY": -19}}}},
        {"data": {"name": "labels"}, "transform": [{"filter": "datum.p == 'b'"}],
         "mark": {"type": "point", "shape": "M-1.9,-1H1.9V1H-1.9Z", "size": 256, "filled": true, "fill": "white", "stroke": "black", "strokeWidth": 0.9, "opacity": 1}},
        {"data": {"name": "labels"}, "transform": [{"filter": "datum.p == 'b'"}],
         "mark": {"type": "text", "font": "Liberation Serif", "fontSize": 13, "color": "#111"},
         "encoding": {"text": {"field": "t"}}}
      ]
    },
    {
      "width": 397, "height": 224,
      "title": {"text": "c) Horizontal reduction on IPE section", "offset": 3},
      "data": {"name": "c"},
      "encoding": {
        "x": {"field": "x", "type": "quantitative", "scale": {"domain": [13, 31], "nice": false, "zero": false}, "axis": {"values": [13,14,15,16,17,18,19,20,21,22,23,24,25,26,27,28,29,30,31], "title": "Am/V [m⁻¹]", "titlePadding": 3}},
        "y": {"field": "y", "type": "quantitative", "scale": {"domain": [0, 90], "nice": false}, "axis": {"values": [0,10,20,30,40,50,60,70,80,90], "title": "bc,fi,horizontal [mm]", "titleX": -18, "titleY": -11}}
      },
      "layer": [
        {"transform": [{"filter": "datum.m == 'EN1994-1-2'"}], "mark": {"type": "line", "color": "#3a3a3a", "strokeWidth": 0.9},
         "encoding": {"detail": {"field": "r"}, "order": [{"field": "x", "type": "quantitative"}, {"field": "y", "type": "quantitative"}]}},
        {"transform": [{"filter": "datum.m == 'New proposal'"}], "mark": {"type": "line", "color": "#000000", "strokeWidth": 1.5, "strokeDash": [6,3]},
         "encoding": {"detail": {"field": "r"}, "order": [{"field": "x", "type": "quantitative"}, {"field": "y", "type": "quantitative"}]}},
        {"transform": [{"filter": "datum.m == 'ANSYS'"}], "mark": {"type": "line", "color": "#000000", "strokeWidth": 1.2},
         "encoding": {"detail": {"field": "r"}, "order": [{"field": "x", "type": "quantitative"}, {"field": "y", "type": "quantitative"}]}},
        {"transform": [{"filter": "datum.m == 'ANSYS' && !datum.cap"}],
         "mark": {"type": "point", "shape": "triangle-up", "filled": true, "fill": "black", "stroke": "black", "strokeWidth": 0.8, "opacity": 1, "size": 24}},
        {"transform": [{"filter": "datum.m == 'EN1994-1-2'"}],
         "mark": {"type": "point", "shape": "square", "filled": true, "fill": "white", "stroke": "black", "strokeWidth": 0.8, "opacity": 1, "size": 22}},
        {"transform": [{"filter": "false"}],
         "mark": {"type": "point", "filled": true, "stroke": "black", "strokeWidth": 1, "opacity": 1, "size": 196},
         "encoding": {
           "shape": {"field": "m", "type": "nominal", "scale": {"domain": ["ANSYS", "EN1994-1-2", "New proposal"], "range": ["M-1,0H1M-0.36,0.3L0,-0.34L0.36,0.3Z", "M-1,0H-0.3M0.3,0H1M-0.3,-0.3H0.3V0.3H-0.3Z", "M-1,0H1"]}, "legend": {"title": null, "orient": "none", "legendX": 97, "legendY": -22}},
           "fill": {"field": "m", "type": "nominal", "scale": {"domain": ["ANSYS", "EN1994-1-2", "New proposal"], "range": ["black", "white", "white"]}, "legend": {"title": null, "orient": "none", "legendX": 97, "legendY": -22}},
           "strokeDash": {"field": "m", "type": "nominal", "scale": {"domain": ["ANSYS", "EN1994-1-2", "New proposal"], "range": [[1,0],[1,0],[4,3]]}, "legend": {"title": null, "orient": "none", "legendX": 97, "legendY": -22}}}},
        {"data": {"name": "labels"}, "transform": [{"filter": "datum.p == 'c'"}],
         "mark": {"type": "point", "shape": "M-1.9,-1H1.9V1H-1.9Z", "size": 256, "filled": true, "fill": "white", "stroke": "black", "strokeWidth": 0.9, "opacity": 1}},
        {"data": {"name": "labels"}, "transform": [{"filter": "datum.p == 'c'"}],
         "mark": {"type": "text", "font": "Liberation Serif", "fontSize": 13, "color": "#111"},
         "encoding": {"text": {"field": "t"}}}
      ]
    },
    {
      "width": 389, "height": 222,
      "title": {"text": "d) Vertical reduction on IPE section", "offset": 5},
      "data": {"name": "d"},
      "encoding": {
        "x": {"field": "x", "type": "quantitative", "scale": {"domain": [13, 31], "nice": false, "zero": false}, "axis": {"values": [13,14,15,16,17,18,19,20,21,22,23,24,25,26,27,28,29,30,31], "title": "Am/V [m⁻¹]", "titlePadding": 3}},
        "y": {"field": "y", "type": "quantitative", "scale": {"domain": [0, 200], "nice": false}, "axis": {"values": [0,20,40,60,80,100,120,140,160,180,200], "title": "bc,fi,vertical [mm]", "titleX": -25, "titleY": -11}}
      },
      "layer": [
        {"transform": [{"filter": "datum.m == 'EN1994-1-2'"}], "mark": {"type": "line", "color": "#3a3a3a", "strokeWidth": 0.9},
         "encoding": {"detail": {"field": "r"}, "order": [{"field": "x", "type": "quantitative"}, {"field": "y", "type": "quantitative"}]}},
        {"transform": [{"filter": "datum.m == 'New proposal'"}], "mark": {"type": "line", "color": "#000000", "strokeWidth": 1.5, "strokeDash": [6,3]},
         "encoding": {"detail": {"field": "r"}, "order": [{"field": "x", "type": "quantitative"}, {"field": "y", "type": "quantitative"}]}},
        {"transform": [{"filter": "datum.m == 'ANSYS'"}], "mark": {"type": "line", "color": "#000000", "strokeWidth": 1.2},
         "encoding": {"detail": {"field": "r"}, "order": [{"field": "x", "type": "quantitative"}, {"field": "y", "type": "quantitative"}]}},
        {"transform": [{"filter": "datum.m == 'ANSYS' && !datum.cap"}],
         "mark": {"type": "point", "shape": "triangle-up", "filled": true, "fill": "white", "stroke": "black", "strokeWidth": 0.8, "opacity": 1, "size": 24}},
        {"transform": [{"filter": "datum.m == 'EN1994-1-2'"}],
         "mark": {"type": "point", "shape": "square", "filled": true, "fill": "white", "stroke": "black", "strokeWidth": 0.8, "opacity": 1, "size": 22}},
        {"transform": [{"filter": "false"}],
         "mark": {"type": "point", "filled": true, "stroke": "black", "strokeWidth": 1, "opacity": 1, "size": 196},
         "encoding": {
           "shape": {"field": "m", "type": "nominal", "scale": {"domain": ["ANSYS", "EN1994-1-2", "New proposal"], "range": ["M-1,0H1M-0.36,0.3L0,-0.34L0.36,0.3Z", "M-1,0H-0.3M0.3,0H1M-0.3,-0.3H0.3V0.3H-0.3Z", "M-1,0H1"]}, "legend": {"title": null, "orient": "none", "legendX": 87, "legendY": -22}},
           "fill": {"field": "m", "type": "nominal", "scale": {"domain": ["ANSYS", "EN1994-1-2", "New proposal"], "range": ["white", "white", "white"]}, "legend": {"title": null, "orient": "none", "legendX": 87, "legendY": -22}},
           "strokeDash": {"field": "m", "type": "nominal", "scale": {"domain": ["ANSYS", "EN1994-1-2", "New proposal"], "range": [[1,0],[1,0],[4,3]]}, "legend": {"title": null, "orient": "none", "legendX": 87, "legendY": -22}}}},
        {"data": {"name": "labels"}, "transform": [{"filter": "datum.p == 'd'"}],
         "mark": {"type": "point", "shape": "M-1.9,-1H1.9V1H-1.9Z", "size": 256, "filled": true, "fill": "white", "stroke": "black", "strokeWidth": 0.9, "opacity": 1}},
        {"data": {"name": "labels"}, "transform": [{"filter": "datum.p == 'd'"}],
         "mark": {"type": "text", "font": "Liberation Serif", "fontSize": 13, "color": "#111"},
         "encoding": {"text": {"field": "t"}}}
      ]
    }
  ]
}
